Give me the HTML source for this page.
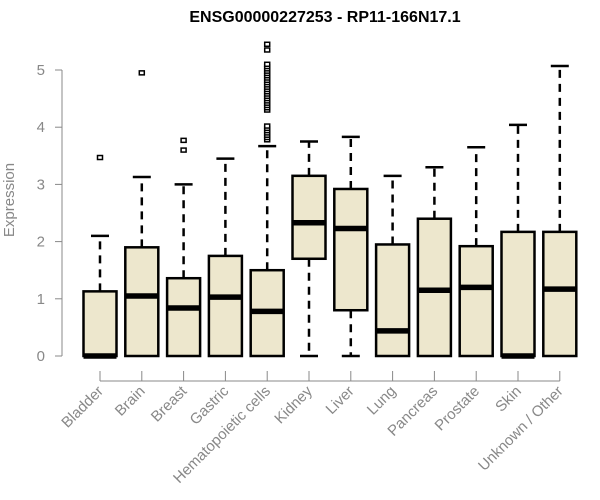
<!DOCTYPE html>
<html><head><meta charset="utf-8"><style>
body{margin:0;background:#fff;}
svg{display:block;font-family:"Liberation Sans",Arial,sans-serif;}
</style></head><body>
<svg id="chart" width="600" height="500">
<text x="325" y="22" text-anchor="middle" font-weight="bold" font-size="16">ENSG00000227253 - RP11-166N17.1</text>
<text transform="translate(14,200) rotate(-90)" text-anchor="middle" font-size="15" fill="#888">Expression</text>
<g id="plot"></g>
</svg>
<script>
const categories=["Bladder","Brain","Breast","Gastric","Hematopoietic cells","Kidney","Liver","Lung","Pancreas","Prostate","Skin","Unknown / Other"];
const q1=[0,0,0,0,0,1.7,0.8,0,0,0,0,0];
const medians=[0,1.05,0.84,1.03,0.78,2.33,2.23,0.44,1.15,1.2,0,1.17];
const q3=[1.13,1.9,1.36,1.75,1.5,3.15,2.92,1.95,2.4,1.92,2.17,2.17];
const whiskLo=[0,0,0,0,0,0,0,0,0,0,0,0];
const whiskHi=[2.1,3.13,3.0,3.45,3.67,3.75,3.83,3.15,3.3,3.65,4.04,5.07];
const outliers=[[3.47],[4.95],[3.6,3.77],[],[3.78,3.82,3.86,3.9,3.94,3.98,4.02,4.3,4.34,4.38,4.42,4.46,4.5,4.54,4.58,4.62,4.66,4.7,4.74,4.78,4.82,4.86,4.9,4.94,4.98,5.02,5.06,5.1,5.35,5.45],[],[],[],[],[],[],[]];
const yTicks=[0,1,2,3,4,5];
const NS="http://www.w3.org/2000/svg";
const g=document.getElementById('plot');
const y=v=>356-v*57.2;
const x=i=>100+i*41.8;
const bw=33;
function mk(t,a){const e=document.createElementNS(NS,t);for(const k in a)e.setAttribute(k,a[k]);g.appendChild(e);return e;}
let e=mk('line',{x1:62,x2:62,y1:y(0),y2:y(5),stroke:'#888'});


yTicks.forEach(t=>{
 let l=mk('line',{x1:55,x2:62,y1:y(t),y2:y(t),stroke:'#888'});
 
 
 let tx=mk('text',{x:45,y:y(t)+5,'text-anchor':'end','font-size':15,fill:'#888'});
 tx.textContent=t;
 
 
});
e=mk('line',{x1:x(0),x2:x(categories.length-1),y1:381,y2:381,stroke:'#888'});


categories.forEach((c,i)=>{
 const cx=x(i);
 let t=mk('line',{x1:cx,x2:cx,y1:371,y2:381,stroke:'#888'});
 
 
 let lb=mk('text',{transform:`translate(${cx+4},${392}) rotate(-45)`,'text-anchor':'end','font-size':15,fill:'#888'});
 lb.textContent=c;
 
 
 let w=mk('line',{x1:cx,x2:cx,y1:y(q3[i]),y2:y(whiskHi[i]),stroke:'#000','stroke-width':2.5,'stroke-dasharray':'8,6'});
 
 
 let wc=mk('line',{x1:cx-9,x2:cx+9,y1:y(whiskHi[i]),y2:y(whiskHi[i]),stroke:'#000','stroke-width':2.5});
 
 
 if(q1[i]>whiskLo[i]){
  let w2=mk('line',{x1:cx,x2:cx,y1:y(q1[i]),y2:y(whiskLo[i]),stroke:'#000','stroke-width':2.5,'stroke-dasharray':'8,6'});
  
  
  let wc2=mk('line',{x1:cx-9,x2:cx+9,y1:y(whiskLo[i]),y2:y(whiskLo[i]),stroke:'#000','stroke-width':2.5});
  
  
 }
 let b=mk('rect',{x:cx-bw/2,y:y(q3[i]),width:bw,height:y(q1[i])-y(q3[i]),fill:'#ede7cd',stroke:'#000','stroke-width':2.5});
 
 
 let m=mk('line',{x1:cx-bw/2,x2:cx+bw/2,y1:y(medians[i]),y2:y(medians[i]),stroke:'#000','stroke-width':5.5});
 
 
 outliers[i].forEach(v=>{
  let o=mk('rect',{x:cx-2.5,y:y(v)-2,width:5,height:4,fill:'#fff',stroke:'#000','stroke-width':1.5});
  
  
 });
});
</script>
</body></html>
